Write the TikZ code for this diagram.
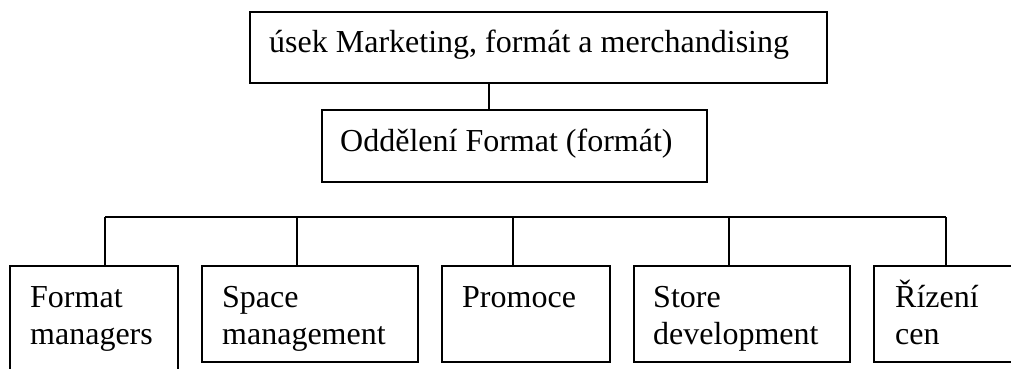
\documentclass[tikz,border=0pt]{standalone}
\usepackage{fontspec}
\setmainfont{Liberation Serif}
\begin{document}
\begin{tikzpicture}[x=1pt,y=1pt,
  box/.style={draw=black, line width=1.8pt, rectangle, inner sep=0pt, anchor=north west},
  lbl/.style={anchor=base west, inner sep=0pt, font=\fontsize{32}{37}\selectfont},
  link/.style={draw=black, line width=1.6pt}]
\useasboundingbox (0,0) rectangle (1011,-368);

% upper levels
\node[box, minimum width=577, minimum height=71] (usek) at (249,-11) {};
\node[lbl] (usekT) at (269,-52) {úsek Marketing, formát a merchandising};
\node[box, minimum width=385, minimum height=72] (odd) at (321,-109) {};
\node[lbl] (oddT) at (340,-151) {Oddělení Format (formát)};

% departments
\node[box, minimum width=168, minimum height=110] (fm) at (9,-265) {};
\node[lbl] (fmT) at (30,-307) {\parbox[t]{150pt}{Format\\managers}};
\node[box, minimum width=216, minimum height=96] (sm) at (201,-265) {};
\node[lbl] (smT) at (222,-307) {\parbox[t]{190pt}{Space\\management}};
\node[box, minimum width=168, minimum height=96] (pr) at (441,-265) {};
\node[lbl] (prT) at (462,-307) {Promoce};
\node[box, minimum width=216, minimum height=96] (sd) at (633,-265) {};
\node[lbl] (sdT) at (653,-307) {\parbox[t]{190pt}{Store\\development}};
\node[box, minimum width=150, minimum height=96] (rc) at (873,-265) {};
\node[lbl] (rcT) at (895,-307) {\parbox[t]{120pt}{Řízení\\cen}};

% connectors
\draw[link] (usek.south -| 489,0) -- (odd.north -| 489,0);
\coordinate (busL) at (105,-217);
\coordinate (busR) at (946,-217);
\draw[link] (busL) -- (busR);
\draw[link] (busL) -- (fm.north -| busL);
\draw[link] (297,-217) coordinate (b2) -- (sm.north -| b2);
\draw[link] (513,-217) coordinate (b3) -- (pr.north -| b3);
\draw[link] (729,-217) coordinate (b4) -- (sd.north -| b4);
\draw[link] (busR) -- (rc.north -| busR);
\end{tikzpicture}
\end{document}
